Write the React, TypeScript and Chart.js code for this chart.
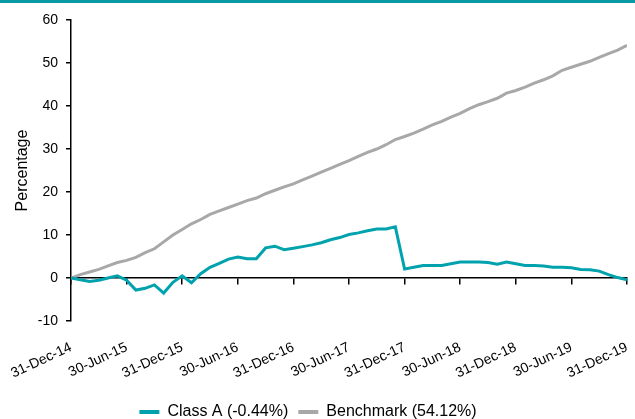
import React, { useEffect, useRef } from "react";
import { Chart, registerables } from "chart.js";

Chart.register(...registerables);

const tickLabels = [
  "31-Dec-14", "30-Jun-15", "31-Dec-15", "30-Jun-16", "31-Dec-16", "30-Jun-17",
  "31-Dec-17", "30-Jun-18", "31-Dec-18", "30-Jun-19", "31-Dec-19",
];

const classA = [
  0, -0.4, -0.8, -0.5, 0.0, 0.5, -0.5, -2.8, -2.4, -1.6,
  -3.5, -1.0, 0.5, -1.1, 1.0, 2.5, 3.4, 4.4, 4.9, 4.5,
  4.5, 7.0, 7.4, 6.6, 6.9, 7.3, 7.7, 8.2, 8.9, 9.4,
  10.1, 10.5, 11.0, 11.4, 11.4, 11.9, 2.1, 2.5, 2.9, 2.9,
  2.9, 3.3, 3.7, 3.7, 3.7, 3.6, 3.2, 3.7, 3.3, 2.9,
  2.9, 2.8, 2.5, 2.5, 2.4, 2.0, 1.9, 1.6, 0.8, 0.1,
  -0.44,
];

const benchmark = [
  0, 0.8, 1.4, 2.0, 2.8, 3.6, 4.1, 4.8, 5.9, 6.8,
  8.4, 10.0, 11.3, 12.6, 13.6, 14.8, 15.6, 16.4, 17.2, 18.0,
  18.6, 19.6, 20.4, 21.2, 21.9, 22.8, 23.7, 24.6, 25.5, 26.4,
  27.3, 28.3, 29.2, 30.0, 31.0, 32.2, 32.9, 33.7, 34.6, 35.6,
  36.4, 37.4, 38.3, 39.4, 40.3, 41.0, 41.8, 43.0, 43.6, 44.4,
  45.3, 46.1, 47.0, 48.3, 49.0, 49.7, 50.4, 51.3, 52.2, 53.0,
  54.12,
];

const seriesNames = ["Class A (-0.44%)", "Benchmark (54.12%)"];
const TEAL = "#00a3ad";
const GREY = "#a8a8a8";

export default function App() {
  const ref = useRef<HTMLCanvasElement | null>(null);

  useEffect(() => {
    if (!ref.current) return;
    Chart.defaults.font.family = "'Liberation Sans', Arial, sans-serif";
    Chart.defaults.color = "#000";
    const toPts = (arr: number[]) => arr.map((v, i) => ({ x: i, y: v }));
    const chart = new Chart(ref.current, {
      type: "line",
      data: {
        datasets: [
          {
            label: seriesNames[0],
            data: toPts(classA),
            borderColor: TEAL,
            backgroundColor: TEAL,
            borderWidth: 3,
            pointRadius: 0,
            tension: 0,
          },
          {
            label: seriesNames[1],
            data: toPts(benchmark),
            borderColor: GREY,
            backgroundColor: GREY,
            borderWidth: 3,
            pointRadius: 0,
            tension: 0,
          },
        ],
      },
      options: {
        animation: false,
        responsive: true,
        maintainAspectRatio: false,
        layout: { padding: { top: 20, right: 8, left: -11, bottom: -11 } },
        plugins: {
          tooltip: { enabled: false },
          legend: {
            position: "bottom",
            labels: {
              font: { size: 16 },
              color: "#000",
              boxWidth: 20,
              boxHeight: 4,
              padding: 10,
              generateLabels: (c: any) =>
                Chart.defaults.plugins.legend.labels
                  .generateLabels(c)
                  .map((l: any) => ({ ...l, fillStyle: l.strokeStyle, lineWidth: 0 })),
            },
          },
        },
        scales: {
          x: {
            type: "linear",
            min: 0,
            max: 60,
            position: { y: 0 } as any,
            ticks: { display: false, stepSize: 6 },
            grid: {
              drawOnChartArea: false,
              drawTicks: true,
              tickLength: 6,
              color: "#000",
              lineWidth: 1.5,
            },
            border: { display: true, color: "#000", width: 1.5 },
          },
          xl: {
            type: "linear",
            axis: "x",
            position: "bottom",
            min: 0,
            max: 60,
            ticks: {
              stepSize: 6,
              autoSkip: false,
              maxRotation: 25,
              minRotation: 25,
              padding: 18,
              font: { size: 14 },
              color: "#000",
              callback: (v: any) => tickLabels[Math.round(Number(v) / 6)] ?? "",
            },
            grid: { display: false, drawTicks: false },
            border: { display: false },
            afterFit: (s: any) => {
              s.height = 73;
              s.paddingLeft = 0;
              s.paddingRight = 0;
            },
          },
          y: {
            min: -10,
            max: 60,
            ticks: { stepSize: 10, padding: 8, font: { size: 14 }, color: "#000" },
            grid: {
              drawOnChartArea: false,
              drawTicks: true,
              tickLength: 5,
              color: "#000",
              lineWidth: 1.5,
            },
            border: { display: true, color: "#000", width: 1.5 },
            title: {
              display: true,
              text: "Percentage",
              font: { size: 16 },
              color: "#000",
              padding: { top: 24, bottom: 0 },
            },
            afterFit: (s: any) => {
              s.width = 82;
            },
          },
        },
      },
    });
    return () => chart.destroy();
  }, []);

  return (
    <div style={{ position: "absolute", left: 0, top: 0, width: 635, height: 419, background: "#fff" }}>
      <canvas ref={ref} />
      <div style={{ position: "absolute", left: 0, top: 0, width: 635, height: 3, background: "#0a9aa6" }} />
    </div>
  );
}
